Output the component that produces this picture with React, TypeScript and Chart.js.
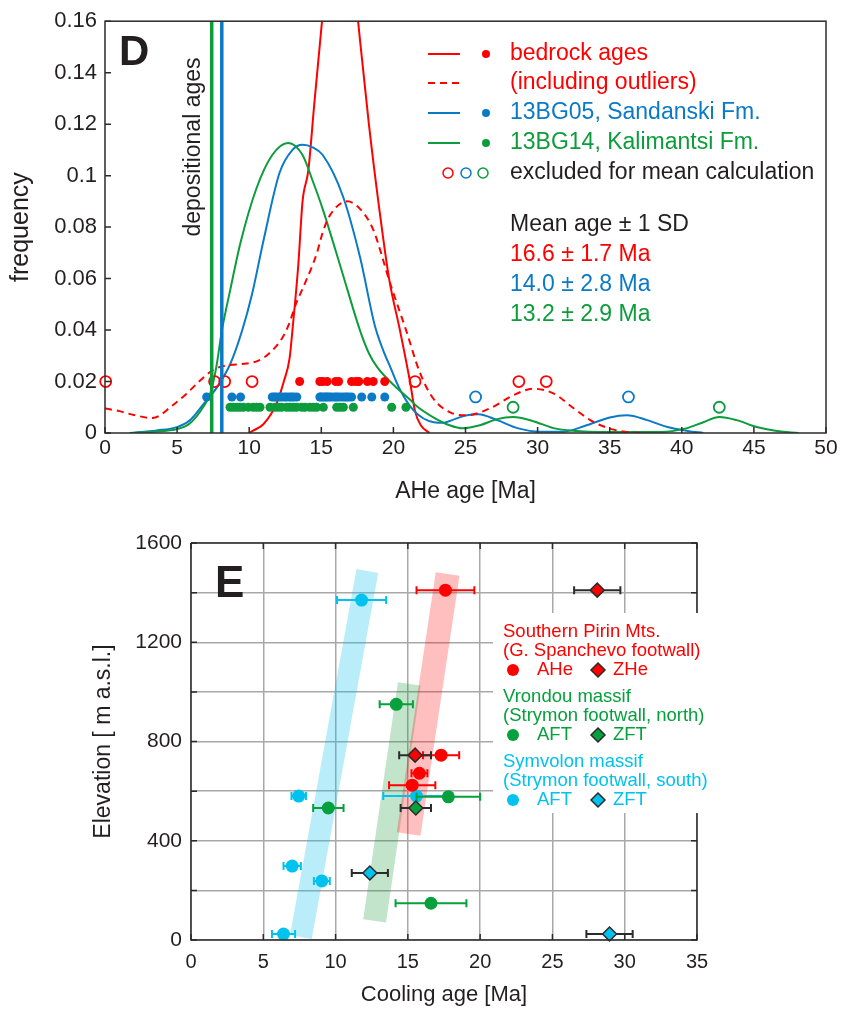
import React, { useEffect, useRef } from 'react';
import Chart from 'chart.js/auto';

// ---------------- Panel D (AHe age KDE) ----------------
const bedrockX = [10.0, 10.3, 11.0, 11.9, 12.4, 12.8, 13.0, 13.4, 13.7, 14.1, 14.5, 15.05, 15.6, 16.3, 17.0, 17.55, 18.3, 19.0, 19.7, 20.45, 21.15, 21.5, 21.9, 22.5];
const bedrockY = [0, 0.001, 0.0035, 0.0115, 0.02, 0.029, 0.04, 0.065, 0.09, 0.102, 0.127, 0.16, 0.19, 0.205, 0.19, 0.16, 0.12, 0.088, 0.06, 0.04, 0.02, 0.0085, 0.003, 0];
const bedrockAllX = [0, 1, 2, 3.3, 4.7, 5.6, 6.6, 7.5, 8.2, 9.8, 10.6, 11.4, 12.3, 12.7, 13.3, 13.7, 14.7, 15.1, 15.6, 16.8, 17.7, 18.6, 19.8, 20.9, 21.8, 22.7, 23.9, 25.1, 26.7, 28.3, 29.7, 31.1, 32.5, 33.9, 35.2, 36.3, 37.3];
const bedrockAllY = [0.0095, 0.0085, 0.007, 0.0058, 0.0108, 0.015, 0.0204, 0.0245, 0.026, 0.027, 0.028, 0.031, 0.037, 0.0415, 0.051, 0.056, 0.07, 0.078, 0.0846, 0.09, 0.087, 0.079, 0.0577, 0.0396, 0.024, 0.0139, 0.0081, 0.0069, 0.0096, 0.0146, 0.0172, 0.0154, 0.0096, 0.0042, 0.0014, 0.0003, 0];
const bg05X = [1.7, 3.6, 5.0, 5.9, 6.8, 7.8, 8.7, 9.5, 10.2, 11.0, 12.1, 13.0, 13.7, 14.4, 15.1, 16.5, 17.7, 18.7, 19.3, 19.8, 20.4, 21.4, 22.8, 23.5, 24.3, 25.1, 25.9, 27.2, 28.6, 30.2, 31.8, 33.4, 35.0, 36.2, 37.6, 39.0, 40.4, 41.5];
const bg05Y = [0, 0.001, 0.0023, 0.005, 0.011, 0.018, 0.027, 0.0396, 0.054, 0.075, 0.101, 0.110, 0.112, 0.111, 0.108, 0.092, 0.068, 0.042, 0.032, 0.0254, 0.0175, 0.0088, 0.0042, 0.004, 0.0055, 0.0069, 0.0073, 0.005, 0.0019, 0.0005, 0.0005, 0.003, 0.006, 0.0069, 0.005, 0.0023, 0.0008, 0];
const bg14X = [2.0, 4.0, 5.0, 5.9, 6.8, 7.3, 7.7, 8.1, 8.7, 9.4, 10.5, 11.6, 12.7, 13.7, 14.4, 15.1, 16.5, 17.7, 18.3, 18.9, 20.2, 21.2, 21.6, 22.8, 23.9, 24.8, 26.0, 27.2, 28.3, 29.7, 31.1, 32.7, 34.3, 38.5, 40.3, 41.5, 42.6, 43.8, 45.2, 46.6, 48.1];
const bg14Y = [0, 0.0008, 0.0015, 0.0038, 0.01, 0.0154, 0.025, 0.0396, 0.056, 0.074, 0.095, 0.108, 0.1127, 0.108, 0.098, 0.087, 0.0615, 0.0396, 0.031, 0.0254, 0.0177, 0.0127, 0.0105, 0.006, 0.003, 0.0018, 0.003, 0.0054, 0.0062, 0.0046, 0.0019, 0.0008, 0.0004, 0.0004, 0.0018, 0.0042, 0.0062, 0.005, 0.0023, 0.0008, 0];
const depositionalAges = [7.4, 8.1]; // 13BG14 (green), 13BG05 (blue)
const bedrockAges = [13.5, 14.9, 15.1, 15.4, 16.0, 16.2, 17.1, 17.4, 17.6, 18.2, 18.6, 19.4];
const bedrockExcluded = [0.05, 7.6, 8.3, 10.2, 21.5, 28.7, 30.6];
const bg05Ages = [7.05, 8.8, 9.4, 11.6, 11.75, 11.9, 12.1, 12.25, 12.45, 12.6, 12.8, 12.95, 13.1, 13.3, 14.9, 15.0, 15.15, 15.3, 15.4, 15.55, 15.7, 15.9, 16.05, 16.2, 16.4, 16.6, 16.75, 16.9, 17.1, 17.8, 18.5, 19.4];
const bg05Excluded = [25.7, 36.3];
const bg14Ages = [8.67, 8.9, 9.13, 9.36, 9.59, 9.94, 10.28, 10.52, 10.75, 11.44, 11.79, 12.02, 12.25, 12.6, 12.83, 13.06, 13.29, 13.64, 13.87, 14.2, 14.45, 14.68, 15.14, 16.07, 16.3, 16.53, 17.22, 19.88, 20.87];
const bg14Excluded = [28.3, 42.6];
const bedrockLevel = 0.02, bg05Level = 0.014, bg14Level = 0.01;
const xTicksD = [0, 5, 10, 15, 20, 25, 30, 35, 40, 45, 50];
const yTicksD = [0, 0.02, 0.04, 0.06, 0.08, 0.1, 0.12, 0.14, 0.16];

// ---------------- Panel E (cooling age vs elevation) ----------------
const pirinAHeAge = [17.6, 17.3, 15.8, 15.3];
const pirinAHeElev = [1410, 745, 672, 624];
const pirinAHeErr = [2.0, 1.25, 0.55, 1.6];
const pirinZHeAge = [28.1, 15.5];
const pirinZHeElev = [1410, 745];
const pirinZHeErr = [1.6, 1.1];
const vrondouAFTAge = [14.2, 17.8, 9.5, 16.6];
const vrondouAFTElev = [950, 577, 532, 148];
const vrondouAFTErr = [1.15, 2.2, 1.05, 2.45];
const vrondouZFTAge = [15.55];
const vrondouZFTElev = [532];
const vrondouZFTErr = [1.05];
const symvolonAFTAge = [11.8, 7.45, 15.6, 7.0, 9.05, 6.4];
const symvolonAFTElev = [1370, 580, 580, 298, 238, 24];
const symvolonAFTErr = [1.7, 0.5, 2.3, 0.6, 0.55, 0.8];
const symvolonZFTAge = [12.37, 28.95];
const symvolonZFTElev = [270, 24];
const symvolonZFTErr = [1.25, 1.6];
const symvolonTrendAge = [12.2, 7.6];
const symvolonTrendElev = [1487, 12];
const vrondouTrendAge = [15.1, 12.7];
const vrondouTrendElev = [1032, 77];
const pirinTrendAge = [17.75, 15.05];
const pirinTrendElev = [1475, 427];
const xTicksE = [0, 5, 10, 15, 20, 25, 30, 35];
const yTicksE = [0, 200, 400, 600, 800, 1000, 1200, 1400, 1600];

// ---------------- styles ----------------
const FONT = "'Liberation Sans', Arial, Helvetica, sans-serif";
const TXT = '#231f20';
const FRAME = '#2b2b2b';
const RED = '#ff0000';
const BLUE = '#0a7ac6';
const GREEN = '#0c9c3c';
const E_GREEN = '#06a03c';
const CYAN = '#00c2ee';

const pts = (xs: number[], ys: number[]) => xs.map((x, i) => ({ x, y: ys[i] }));
const level = (xs: number[], y: number) => xs.map((x) => ({ x, y }));

const errorBarPlugin = {
  id: 'errorBars',
  beforeDatasetDraw(chart: any, args: any) {
    const ds = chart.data.datasets[args.index];
    if (!ds.xErr) return;
    const { ctx } = chart;
    const xs = chart.scales.x;
    const meta = args.meta;
    ctx.save();
    ctx.strokeStyle = ds.errColor;
    ctx.lineWidth = 2;
    ds.data.forEach((p: any, i: number) => {
      const el = meta.data[i];
      if (!el) return;
      const y = el.y;
      const x1 = xs.getPixelForValue(p.x - ds.xErr[i]);
      const x2 = xs.getPixelForValue(p.x + ds.xErr[i]);
      ctx.beginPath();
      ctx.moveTo(x1, y); ctx.lineTo(x2, y);
      ctx.moveTo(x1, y - 4); ctx.lineTo(x1, y + 4);
      ctx.moveTo(x2, y - 4); ctx.lineTo(x2, y + 4);
      ctx.stroke();
    });
    ctx.restore();
  },
};

const decorD = {
  id: 'decorD',
  afterDraw(chart: any) {
    const { ctx, chartArea: a, scales } = chart;
    const xs = scales.x, ys = scales.y;
    ctx.save();
    ctx.strokeStyle = FRAME;
    ctx.lineWidth = 1.5;
    ctx.strokeRect(a.left, a.top, a.right - a.left, a.bottom - a.top);
    ctx.beginPath();
    xTicksD.forEach((v) => { const px = xs.getPixelForValue(v); ctx.moveTo(px, a.bottom); ctx.lineTo(px, a.bottom - 6); });
    yTicksD.forEach((v) => { const py = ys.getPixelForValue(v); ctx.moveTo(a.left, py); ctx.lineTo(a.left + 6, py); });
    ctx.stroke();

    ctx.fillStyle = TXT;
    ctx.font = `bold 42px ${FONT}`;
    ctx.textAlign = 'left';
    ctx.textBaseline = 'alphabetic';
    ctx.fillText('D', 119, 65);

    ctx.save();
    ctx.translate(194, 147);
    ctx.rotate(-Math.PI / 2);
    ctx.font = `23px ${FONT}`;
    ctx.textAlign = 'center';
    ctx.textBaseline = 'middle';
    ctx.fillText('depositional ages', 0, 0);
    ctx.restore();

    // legend
    const rows = [
      { y: 54, color: RED, dash: false, dot: true, text: 'bedrock ages' },
      { y: 83, color: RED, dash: true, dot: false, text: '(including outliers)' },
      { y: 113, color: BLUE, dash: false, dot: true, text: '13BG05, Sandanski Fm.' },
      { y: 143, color: GREEN, dash: false, dot: true, text: '13BG14, Kalimantsi Fm.' },
    ];
    ctx.font = `23px ${FONT}`;
    ctx.textBaseline = 'middle';
    ctx.textAlign = 'left';
    rows.forEach((r) => {
      ctx.strokeStyle = r.color;
      ctx.lineWidth = 2;
      ctx.setLineDash(r.dash ? [7, 5] : []);
      ctx.beginPath(); ctx.moveTo(428, r.y); ctx.lineTo(460, r.y); ctx.stroke();
      ctx.setLineDash([]);
      if (r.dot) { ctx.fillStyle = r.color; ctx.beginPath(); ctx.arc(486, r.y, 4, 0, Math.PI * 2); ctx.fill(); }
      ctx.fillStyle = r.color;
      ctx.fillText(r.text, 510, r.y);
    });
    [[448, RED], [466, BLUE], [483, GREEN]].forEach(([x, c]: any) => {
      ctx.strokeStyle = c; ctx.lineWidth = 1.5;
      ctx.beginPath(); ctx.arc(x, 173, 5, 0, Math.PI * 2); ctx.stroke();
    });
    ctx.fillStyle = TXT;
    ctx.fillText('excluded for mean calculation', 510, 173);
    ctx.fillText('Mean age \u00b1 1 SD', 510, 225);
    ctx.fillStyle = RED; ctx.fillText('16.6 \u00b1 1.7 Ma', 510, 255);
    ctx.fillStyle = BLUE; ctx.fillText('14.0 \u00b1 2.8 Ma', 510, 285);
    ctx.fillStyle = GREEN; ctx.fillText('13.2 \u00b1 2.9 Ma', 510, 315);
    ctx.restore();
  },
};

const decorE = {
  id: 'decorE',
  afterDraw(chart: any) {
    const { ctx, chartArea: a, scales } = chart;
    const xs = scales.x, ys = scales.y;
    ctx.save();
    // legend box
    const bx = 493, by = 103, bw = 219, bh = 200;
    ctx.fillStyle = '#ffffff';
    ctx.fillRect(bx, by, bw, bh);
    ctx.strokeStyle = FRAME;
    ctx.lineWidth = 1.5;
    ctx.beginPath();
    ctx.moveTo(a.left, a.top); ctx.lineTo(a.right, a.top);
    ctx.lineTo(a.right, by); ctx.moveTo(a.right, by + bh); ctx.lineTo(a.right, a.bottom);
    ctx.lineTo(a.left, a.bottom); ctx.lineTo(a.left, a.top);
    ctx.stroke();
    ctx.beginPath();
    xTicksE.forEach((v) => {
      const px = xs.getPixelForValue(v);
      ctx.moveTo(px, a.bottom); ctx.lineTo(px, a.bottom - 6);
      ctx.moveTo(px, a.top); ctx.lineTo(px, a.top + 6);
    });
    yTicksE.forEach((v) => {
      const py = ys.getPixelForValue(v);
      ctx.moveTo(a.left, py); ctx.lineTo(a.left + 6, py);
      if (py < by || py > by + bh) { ctx.moveTo(a.right, py); ctx.lineTo(a.right - 6, py); }
    });
    ctx.stroke();

    ctx.fillStyle = TXT;
    ctx.font = `bold 44px ${FONT}`;
    ctx.textAlign = 'left';
    ctx.textBaseline = 'alphabetic';
    ctx.fillText('E', 215, 87);

    const groups = [
      { y: 122, color: RED, lines: ['Southern Pirin Mts.', '(G. Spanchevo footwall)'], labels: ['AHe', 'ZHe'] },
      { y: 187, color: E_GREEN, lines: ['Vrondou massif', '(Strymon footwall, north)'], labels: ['AFT', 'ZFT'] },
      { y: 252, color: CYAN, lines: ['Symvolon massif', '(Strymon footwall, south)'], labels: ['AFT', 'ZFT'] },
    ];
    ctx.font = `18.5px ${FONT}`;
    ctx.textBaseline = 'middle';
    groups.forEach((g) => {
      ctx.fillStyle = g.color;
      ctx.fillText(g.lines[0], 503, g.y);
      ctx.fillText(g.lines[1], 503, g.y + 19);
      const my = g.y + 38;
      ctx.beginPath(); ctx.arc(513, my, 6, 0, Math.PI * 2); ctx.fill();
      ctx.fillText(g.labels[0], 537, my);
      ctx.beginPath();
      ctx.moveTo(598, my - 7); ctx.lineTo(605, my); ctx.lineTo(598, my + 7); ctx.lineTo(591, my); ctx.closePath();
      ctx.fill();
      ctx.strokeStyle = FRAME; ctx.lineWidth = 1.5; ctx.stroke();
      ctx.fillStyle = g.color;
      ctx.fillText(g.labels[1], 613, my);
    });
    ctx.restore();
  },
};

export default function App() {
  const topRef = useRef<HTMLCanvasElement | null>(null);
  const botRef = useRef<HTMLCanvasElement | null>(null);

  useEffect(() => {
    Chart.defaults.font.family = FONT;

    const curve = (xs: number[], ys: number[], color: string, dash: number[] = [], order = 3) => ({
      data: pts(xs, ys), showLine: true, borderColor: color, borderWidth: 2, borderDash: dash,
      pointRadius: 0, fill: false, cubicInterpolationMode: 'monotone', order,
    });
    const vline = (x: number, color: string) => ({
      data: [{ x, y: 0 }, { x, y: 0.16 }], showLine: true, borderColor: color, borderWidth: 3.5,
      pointRadius: 0, fill: false, order: 1, borderCapStyle: 'butt',
    });
    const dots = (xs: number[], y: number, color: string) => ({
      data: level(xs, y), showLine: false, pointRadius: 4.5, pointBackgroundColor: color,
      pointBorderWidth: 0, borderColor: color, clip: false, order: 2,
    });
    const rings = (xs: number[], y: number, color: string) => ({
      data: level(xs, y), showLine: false, pointRadius: 5.5, pointBackgroundColor: 'rgba(255,255,255,0)',
      pointBorderWidth: 1.8, pointBorderColor: color, borderColor: color, clip: false, order: 2,
    });

    const top = new Chart(topRef.current as HTMLCanvasElement, {
      type: 'scatter',
      data: {
        datasets: [
          curve(bedrockAllX, bedrockAllY, RED, [7, 5]),
          curve(bg14X, bg14Y, GREEN),
          curve(bg05X, bg05Y, BLUE),
          curve(bedrockX, bedrockY, RED),
          vline(depositionalAges[0], GREEN),
          vline(depositionalAges[1], BLUE),
          dots(bedrockAges, bedrockLevel, RED),
          dots(bg05Ages, bg05Level, BLUE),
          dots(bg14Ages, bg14Level, GREEN),
          rings(bedrockExcluded, bedrockLevel, RED),
          rings(bg05Excluded, bg05Level, BLUE),
          rings(bg14Excluded, bg14Level, GREEN),
        ] as any,
      },
      options: {
        animation: false,
        responsive: false,
        maintainAspectRatio: false,
        layout: { padding: { left: 0, right: 22, top: 17, bottom: 0 } },
        plugins: { legend: { display: false }, tooltip: { enabled: false } },
        scales: {
          x: {
            type: 'linear', min: 0, max: 50,
            ticks: { stepSize: 5, padding: 3, font: { family: FONT, size: 21 }, color: TXT, maxRotation: 0, autoSkip: false },
            grid: { display: false, drawTicks: false },
            border: { display: false },
            title: { display: true, text: 'AHe age [Ma]', font: { family: FONT, size: 23 }, color: TXT, padding: { top: 0, bottom: 5 } },
            afterFit: (s: any) => { s.height = 77; },
          },
          y: {
            type: 'linear', min: 0, max: 0.16,
            ticks: { stepSize: 0.02, padding: 8, font: { family: FONT, size: 22 }, color: TXT,
              callback: (v: any) => String(Number(Number(v).toFixed(2))) },
            grid: { display: false, drawTicks: false },
            border: { display: false },
            title: { display: true, text: 'frequency', font: { family: FONT, size: 25 }, color: TXT, padding: { top: 6, bottom: 0 } },
            afterFit: (s: any) => { s.width = 105; },
          },
        },
      } as any,
      plugins: [decorD],
    });

    const marker = (xs: number[], ys: number[], errs: number[], color: string, diamond: boolean, order: number) => ({
      data: pts(xs, ys), showLine: false, order, clip: false,
      pointStyle: diamond ? 'rectRot' : 'circle',
      pointRadius: diamond ? 7 : 6.5,
      pointBackgroundColor: color,
      pointBorderColor: diamond ? FRAME : color,
      pointBorderWidth: diamond ? 1.5 : 0,
      borderColor: color,
      xErr: errs,
      errColor: diamond ? FRAME : color,
    });
    const band = (xs: number[], ys: number[], color: string, w: number, order: number) => ({
      data: pts(xs, ys), showLine: true, borderColor: color, borderWidth: w, borderCapStyle: 'butt',
      pointRadius: 0, fill: false, order,
    });

    const bot = new Chart(botRef.current as HTMLCanvasElement, {
      type: 'scatter',
      data: {
        datasets: [
          band(symvolonTrendAge, symvolonTrendElev, 'rgba(0,191,235,0.28)', 22, 12),
          band(vrondouTrendAge, vrondouTrendElev, 'rgba(20,150,50,0.26)', 23, 11),
          band(pirinTrendAge, pirinTrendElev, 'rgba(255,0,0,0.25)', 24, 10),
          marker(symvolonAFTAge, symvolonAFTElev, symvolonAFTErr, CYAN, false, 5),
          marker(symvolonZFTAge, symvolonZFTElev, symvolonZFTErr, CYAN, true, 4),
          marker(vrondouAFTAge, vrondouAFTElev, vrondouAFTErr, E_GREEN, false, 3),
          marker(vrondouZFTAge, vrondouZFTElev, vrondouZFTErr, E_GREEN, true, 2),
          marker(pirinAHeAge, pirinAHeElev, pirinAHeErr, RED, false, 1),
          marker(pirinZHeAge, pirinZHeElev, pirinZHeErr, RED, true, 0),
        ] as any,
      },
      options: {
        animation: false,
        responsive: false,
        maintainAspectRatio: false,
        layout: { padding: { left: 0, right: 151, top: 33, bottom: 0 } },
        plugins: { legend: { display: false }, tooltip: { enabled: false } },
        scales: {
          x: {
            type: 'linear', min: 0, max: 35,
            ticks: { stepSize: 5, padding: 10, font: { family: FONT, size: 20 }, color: TXT, maxRotation: 0, autoSkip: false },
            grid: { color: '#a8a8a8', lineWidth: 1.5, drawTicks: false },
            border: { display: false },
            title: { display: true, text: 'Cooling age [Ma]', font: { family: FONT, size: 22 }, color: TXT, padding: { top: 0, bottom: 3 } },
            afterFit: (s: any) => { s.height = 71; },
          },
          y: {
            type: 'linear', min: 0, max: 1600,
            ticks: { stepSize: 200, padding: 9, font: { family: FONT, size: 21 }, color: TXT, autoSkip: false,
              callback: (v: any) => (Number(v) % 400 === 0 ? String(v) : '') },
            grid: { color: '#a8a8a8', lineWidth: 1.5, drawTicks: false },
            border: { display: false },
            title: { display: true, text: 'Elevation [ m a.s.l.]', font: { family: FONT, size: 23 }, color: TXT, padding: { top: 90, bottom: 0 } },
            afterFit: (s: any) => { s.width = 191; },
          },
        },
      } as any,
      plugins: [errorBarPlugin, decorE],
    });

    return () => { top.destroy(); bot.destroy(); };
  }, []);

  return (
    <div style={{ position: 'absolute', left: 0, top: 0, width: 848, height: 1011, background: '#fff' }}>
      <canvas ref={topRef} width={848} height={510} style={{ position: 'absolute', left: 0, top: 0, width: 848, height: 510 }} />
      <canvas ref={botRef} width={848} height={501} style={{ position: 'absolute', left: 0, top: 510, width: 848, height: 501 }} />
    </div>
  );
}
